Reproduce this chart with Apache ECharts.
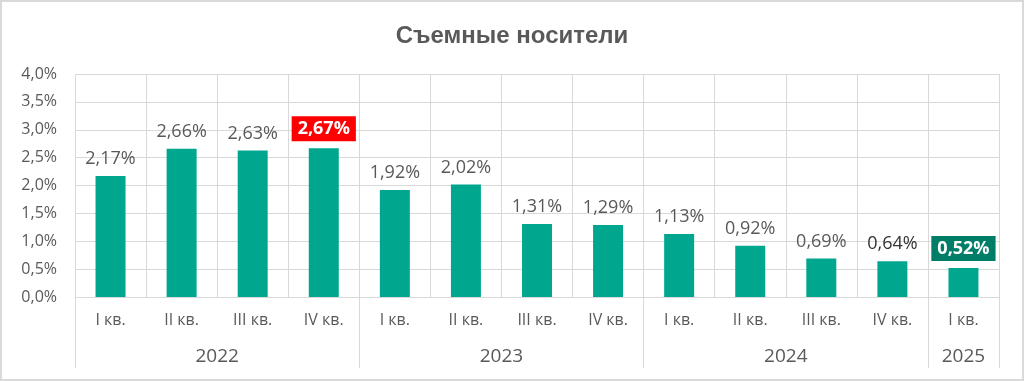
<!DOCTYPE html>
<html>
<head>
<meta charset="utf-8">
<script src="https://cdn.jsdelivr.net/npm/echarts@6/dist/echarts.min.js"></script>
<style>
html,body{margin:0;padding:0;background:#fff;}
#chart{width:1024px;height:381px;}
</style>
</head>
<body>
<div id="chart"></div>
<script>
const title = 'Съемные носители';
const quarters = ['I кв.', 'II кв.', 'III кв.', 'IV кв.', 'I кв.', 'II кв.', 'III кв.', 'IV кв.', 'I кв.', 'II кв.', 'III кв.', 'IV кв.', 'I кв.'];
const values = [2.17, 2.66, 2.63, 2.67, 1.92, 2.02, 1.31, 1.29, 1.13, 0.92, 0.69, 0.64, 0.52];
const years = ['2022', '2023', '2024', '2025'];
const quartersPerYear = [4, 4, 4, 1];
const yTicks = [0, 0.5, 1, 1.5, 2, 2.5, 3, 3.5, 4];
const redIndex = 3;
const greenIndex = 12;
const darkIndex = 11;

const fmt = v => v.toFixed(2).replace('.', ',') + '%';
const TXT = '#595959';
const GRID = '#d9d9d9';
const FONT = '"Open Sans", sans-serif';

// year boundaries and centers from data
const bounds = [0];
quartersPerYear.forEach(n => bounds.push(bounds[bounds.length - 1] + n));
const centers = years.map((y, i) => (bounds[i] + bounds[i + 1]) / 2);

const data = values.map((v, i) => {
  const item = { value: v };
  if (i === redIndex || i === greenIndex) {
    item.label = {
      color: '#fff', fontWeight: 'bold',
      backgroundColor: i === redIndex ? '#FF0000' : '#007D67',
      padding: [4, 6, 3, 6], distance: 7
    };
  } else if (i === darkIndex) {
    item.label = { color: '#333333' };
  }
  return item;
});

const chart = echarts.init(document.getElementById('chart'), null, { renderer: 'canvas' });
chart.setOption({
  animation: false,
  backgroundColor: '#fff',
  title: {
    text: title, left: 'center', top: 19,
    textStyle: { fontFamily: '"Liberation Sans", Arial, sans-serif', fontSize: 24, fontWeight: 'bold', color: TXT }
  },
  graphic: [{
    type: 'rect', shape: { x: 1, y: 1, width: 1022, height: 379 },
    style: { fill: 'none', stroke: GRID, lineWidth: 2 }, silent: true
  }],
  grid: { left: 75, right: 25, top: 74, bottom: 84 },
  xAxis: [{
    type: 'category', data: quarters, boundaryGap: true,
    axisLine: { show: true, lineStyle: { color: GRID, width: 1 } },
    axisTick: { show: false },
    splitLine: { show: true, lineStyle: { color: GRID, width: 1 } },
    axisLabel: { color: TXT, fontFamily: FONT, fontSize: 16, margin: 15, interval: 0 }
  }, {
    type: 'value', min: 0, max: bounds[bounds.length - 1], position: 'bottom', offset: 0,
    axisLine: { show: false },
    splitLine: { show: false },
    axisTick: { show: true, customValues: bounds, length: 71, lineStyle: { color: GRID, width: 1 } },
    axisLabel: {
      show: true, customValues: centers, color: TXT, fontFamily: FONT, fontSize: 19, margin: 50,
      formatter: v => { const i = centers.indexOf(v); return i >= 0 ? years[i] : ''; }
    }
  }],
  yAxis: {
    type: 'value', min: 0, max: yTicks[yTicks.length - 1], interval: 0.5,
    axisLine: { show: false }, axisTick: { show: false },
    splitLine: { show: true, lineStyle: { color: GRID, width: 1 } },
    axisLabel: { color: TXT, fontFamily: FONT, fontSize: 16, margin: 18, formatter: v => v.toFixed(1).replace('.', ',') + '%' }
  },
  series: [{
    type: 'bar', xAxisIndex: 0, data: data, barWidth: 30,
    itemStyle: { color: '#00A78E' },
    label: {
      show: true, position: 'top', distance: 8, color: TXT, fontFamily: FONT, fontSize: 18,
      formatter: p => fmt(p.value)
    }
  }]
});
</script>
</body>
</html>
